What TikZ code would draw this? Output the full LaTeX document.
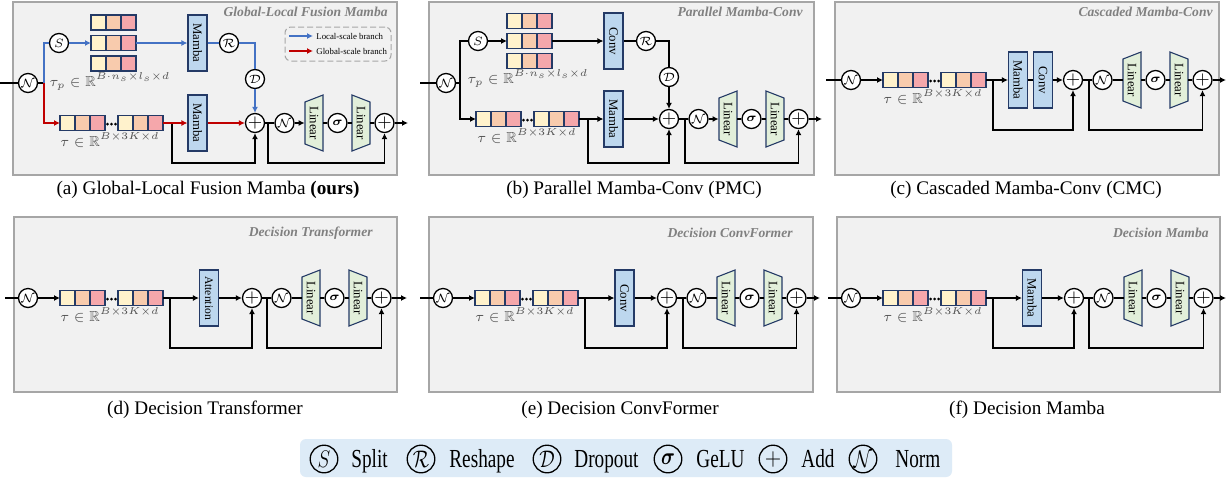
\documentclass[tikz,border=0pt]{standalone}
\usepackage{fontspec}
\setmainfont{Liberation Serif}
\usepackage{amsmath,amssymb}
\usepackage{graphicx}
\usetikzlibrary{arrows.meta}

\definecolor{panelbg}{HTML}{F1F1F1}
\definecolor{panelborder}{HTML}{A6A6A6}
\definecolor{navy}{HTML}{243A66}
\definecolor{blkblue}{HTML}{BDD7EE}
\definecolor{lingreen}{HTML}{E2EFDA}
\definecolor{tokA}{HTML}{FFF2CC}
\definecolor{tokB}{HTML}{F8CBAD}
\definecolor{tokC}{HTML}{F5A7AB}
\definecolor{arrowblue}{HTML}{4472C4}
\definecolor{arrowred}{HTML}{C00000}
\definecolor{titlegray}{HTML}{808080}
\definecolor{labgray}{HTML}{505050}
\definecolor{keybg}{HTML}{DDEBF7}
\definecolor{dashgray}{HTML}{A6A6A6}

\tikzset{
  wire/.style={draw=black, line width=0.65pt},
  bluew/.style={draw=arrowblue, line width=0.75pt},
  redw/.style={draw=arrowred, line width=0.75pt},
  op/.style={circle, draw=black, fill=white, line width=0.65pt, minimum size=9.5pt,
    inner sep=0pt, font=\fontsize{6.5}{7}\selectfont},
  addop/.style={op, font=\fontsize{8.8}{9}\selectfont},
  blk/.style={rectangle, draw=navy, fill=blkblue, line width=0.55pt, minimum width=9.5pt,
    minimum height=28pt, inner sep=0pt, font=\fontsize{6.4}{7}\selectfont},
  linframe/.style={rectangle, minimum width=9pt, minimum height=28pt, inner sep=0pt,
    font=\fontsize{6.4}{7}\selectfont},
  linshape/.style={draw=navy, fill=lingreen, line width=0.55pt, line join=miter},
  tokcell/.style={draw=navy, line width=0.55pt},
  tokspan/.style={rectangle, minimum width=22.5pt, minimum height=7.5pt, inner sep=0pt, outer sep=0pt},
  panel/.style={draw=panelborder, fill=panelbg, line width=0.8pt},
  ptitle/.style={anchor=east, text=titlegray, inner sep=0pt,
    font=\fontsize{6.8}{8}\selectfont\bfseries\itshape},
  caption/.style={anchor=base, inner sep=0pt, font=\fontsize{9.6}{11}\selectfont},
  dimlab/.style={anchor=base, text=labgray, inner sep=0pt, font=\fontsize{7.3}{8}\selectfont},
  keydash/.style={rectangle, draw=dashgray, line width=0.5pt, dash pattern=on 3pt off 1.5pt,
    rounded corners=3pt, minimum width=53pt, minimum height=17pt, inner sep=0pt},
  keytext/.style={anchor=west, inner sep=0pt, font=\fontsize{4.4}{5}\selectfont},
  keybox/.style={rectangle, fill=keybg, rounded corners=3pt, minimum width=326pt,
    minimum height=19pt, inner sep=0pt},
  keyop/.style={circle, draw=black, line width=0.65pt, minimum size=13.8pt, inner sep=0pt,
    font=\fontsize{12}{13}\selectfont},
  keylab/.style={anchor=base west, inner sep=0pt, font=\fontsize{13}{14}\selectfont},
}

% a row of three token cells with a named span node over it
\newcommand\tokgroup[3]{%
  \foreach \tk [count=\ti from 0] in {tokA,tokB,tokC}
    \filldraw[tokcell, fill=\tk] ({#2+15*\ti},{#3-7.5}) rectangle ++(15,15);
  \node[tokspan] (#1) at ({#2+22.5},{#3}) {};
}
% ellipsis between two token groups
\newcommand\tokdots[2]{%
  \foreach \k in {0,1,2}
    \fill ({#1+2.5+4*\k},{#2+1}) circle[radius=0.75pt];
}
% trapezoid linear layer: name, x, y, left inset, right inset
\newcommand\linblk[5]{%
  \filldraw[linshape] ({#2-9},{#3-28+#4}) -- ({#2+9},{#3-28+#5})
    -- ({#2+9},{#3+28-#5}) -- ({#2-9},{#3+28-#4}) -- cycle;
  \node[linframe] (#1) at ({#2},{#3}) {\rotatebox{-90}{Linear}};
}
% add, norm, MLP and add with the two residual paths
% #1 prefix, #2 x of first add, #3 y, #4 skip depth, #5 output x, #6 tip into MLP, #7 skip offset
\newcommand\addtail[7]{%
  \node[addop] (#1-p1) at ({#2},{#3}) {$+$};
  \node[op] (#1-n2) at ({#2+29.5},{#3}) {$\mathcal{N}$};
  \linblk{#1-l1}{#2+59}{#3}{7}{0}
  \node[op] (#1-sg) at ({#2+82.5},{#3}) {$\boldsymbol{\sigma}$};
  \linblk{#1-l2}{#2+106}{#3}{0}{7}
  \node[addop] (#1-p2) at ({#2+129.5},{#3}) {$+$};
  \coordinate (#1-sk2) at ({#2+#7},{#3});
  \coordinate (#1-out) at ({#5},{#3});
  \draw[wire] (#1-p1) -- (#1-n2);
  \draw[wire,#6] (#1-n2) -- (#1-l1);
  \draw[wire] (#1-l1) -- (#1-sg);
  \draw[wire] (#1-sg) -- (#1-l2);
  \draw[wire] (#1-l2) -- (#1-p2);
  \draw[wire,->] (#1-p2) -- (#1-out);
  \draw[wire,->] (#1-sk2) -- ++(0,#4) -| (#1-p2);
}
% norm and token sequence feeding a single-path block
% #1 prefix, #2 x of norm, #3 y, #4 x of incoming end, #5 skip depth
\newcommand\mkfront[5]{%
  \coordinate (#1-in) at ({#4},{#3});
  \node[op] (#1-n1) at ({#2},{#3}) {$\mathcal{N}$};
  \tokgroup{#1-t1}{#2+32}{#3}
  \tokdots{#2+77}{#3}
  \tokgroup{#1-t2}{#2+90}{#3}
  \coordinate (#1-sk) at ({#2+142},{#3});
  \node[dimlab] (#1-lab) at ({#2+82},{#3+23}) {$\tau\in\mathbb{R}^{B\times 3K\times d}$};
  \draw[wire] (#1-in) -- (#1-n1);
  \draw[wire,->] (#1-n1) -- (#1-t1);
  \draw[wire,->] (#1-sk) -- ++(0,#5) -| (#1-p1);
}

\begin{document}
\begin{tikzpicture}[x=0.5pt,y=-0.5pt,>={Latex[length=3pt,width=3pt]}]
\useasboundingbox (0,0) rectangle (1226,478);
\fill[white] (0,0) rectangle (1226,478);

% ---------- panel frames ----------
\draw[panel] (13,2) rectangle (397,175);
\draw[panel] (429,2) rectangle (814,175);
\draw[panel] (835,2) rectangle (1219,175);
\draw[panel] (14,217) rectangle (397,392);
\draw[panel] (429,217) rectangle (813,392);
\draw[panel] (837,217) rectangle (1220,392);

\node[ptitle] (a-title) at (388,12) {Global-Local Fusion Mamba};
\node[ptitle] (b-title) at (803,12) {Parallel Mamba-Conv};
\node[ptitle] (c-title) at (1213,12) {Cascaded Mamba-Conv};
\node[ptitle] (d-title) at (373,233) {Decision Transformer};
\node[ptitle] (e-title) at (793,233) {Decision ConvFormer};
\node[ptitle] (f-title) at (1209,233) {Decision Mamba};

% ---------- (a) Global-Local Fusion Mamba ----------
\addtail{a}{255}{123}{40}{408}{->}{13}
\coordinate (a-in) at (0,83);
\node[op] (a-n1) at (28,83) {$\mathcal{N}$};
\coordinate (a-br) at (44,83);
\node[op] (a-s) at (59,43) {$S$};
\tokgroup{a-u1}{91}{22.5}
\tokgroup{a-u2}{91}{43}
\tokgroup{a-u3}{91}{63.5}
\node[blk] (a-m1) at (197.5,43) {\rotatebox{-90}{Mamba}};
\node[op] (a-r) at (229,43) {$\mathcal{R}$};
\node[op] (a-d) at (255,79) {$\mathcal{D}$};
\tokgroup{a-t1}{60}{123}
\tokdots{105}{123}
\tokgroup{a-t2}{118}{123}
\node[blk] (a-m2) at (197.5,123) {\rotatebox{-90}{Mamba}};
\coordinate (a-sk) at (172,123);
\node[dimlab] (a-labp) at (110,86) {$\tau_p\in\mathbb{R}^{B\cdot n_s\times l_s\times d}$};
\node[dimlab] (a-lab) at (110,146) {$\tau\in\mathbb{R}^{B\times 3K\times d}$};
\draw[wire] (a-in) -- (a-n1);
\draw[wire] (a-n1) -- (a-br);
\draw[wire,->] (a-sk) -- ++(0,40) -| (a-p1);
\draw[bluew] (a-br) |- (a-s);
\draw[bluew,->] (a-s) -- (a-u2);
\draw[bluew,->] (a-u2) -- (a-m1);
\draw[bluew] (a-m1) -- (a-r);
\draw[bluew] (a-r) -| (a-d);
\draw[bluew,->] (a-d) -- (a-p1);
\draw[redw,->] (a-br) |- (a-t1);
\draw[redw,->] (a-t2) -- (a-m2);
\draw[redw,->] (a-m2) -- (a-p1);
% branch key
\node[keydash] (a-key) at (338,44) {};
\coordinate (a-k1a) at (289,36);
\coordinate (a-k1b) at (313,36);
\coordinate (a-k2a) at (289,51);
\coordinate (a-k2b) at (313,51);
\draw[bluew,->] (a-k1a) -- (a-k1b);
\draw[redw,->] (a-k2a) -- (a-k2b);
\node[keytext] (a-k1t) at (316,36) {Local-scale branch};
\node[keytext] (a-k2t) at (316,51) {Global-scale branch};

% ---------- (b) Parallel Mamba-Conv ----------
\addtail{b}{669}{119}{44}{822}{->}{16}
\coordinate (b-in) at (420,83);
\node[op] (b-n1) at (446,83) {$\mathcal{N}$};
\coordinate (b-br) at (460,83);
\node[op] (b-s) at (478,41) {$S$};
\tokgroup{b-u1}{507}{21}
\tokgroup{b-u2}{507}{41}
\tokgroup{b-u3}{507}{61}
\node[blk] (b-cv) at (613.5,41) {\rotatebox{-90}{Conv}};
\node[op] (b-r) at (646,41) {$\mathcal{R}$};
\node[op] (b-d) at (669,77) {$\mathcal{D}$};
\tokgroup{b-t1}{476}{119}
\tokdots{521}{119}
\tokgroup{b-t2}{534}{119}
\node[blk] (b-mb) at (613.5,119) {\rotatebox{-90}{Mamba}};
\coordinate (b-sk) at (588,119);
\node[dimlab] (b-labp) at (528,83) {$\tau_p\in\mathbb{R}^{B\cdot n_s\times l_s\times d}$};
\node[dimlab] (b-lab) at (527,142) {$\tau\in\mathbb{R}^{B\times 3K\times d}$};
\draw[wire] (b-in) -- (b-n1);
\draw[wire] (b-n1) -- (b-br);
\draw[wire] (b-br) |- (b-s);
\draw[wire,->] (b-s) -- (b-u2);
\draw[wire,->] (b-u2) -- (b-cv);
\draw[wire] (b-cv) -- (b-r);
\draw[wire] (b-r) -| (b-d);
\draw[wire,->] (b-d) -- (b-p1);
\draw[wire,->] (b-br) |- (b-t1);
\draw[wire,->] (b-t2) -- (b-mb);
\draw[wire,->] (b-mb) -- (b-p1);
\draw[wire,->] (b-sk) -- ++(0,44) -| (b-p1);

% ---------- (c) Cascaded Mamba-Conv ----------
\addtail{c}{1073}{80}{50}{1226}{-}{16}
\mkfront{c}{851}{80}{826}{50}
\node[blk] (c-mb) at (1018,80) {\rotatebox{-90}{Mamba}};
\node[blk] (c-cv) at (1043,80) {\rotatebox{-90}{Conv}};
\draw[wire,->] (c-t2) -- (c-mb);
\draw[wire] (c-mb) -- (c-cv);
\draw[wire,->] (c-cv) -- (c-p1);

% ---------- (d) Decision Transformer ----------
\addtail{d}{252}{298}{50}{407}{-}{15}
\mkfront{d}{28}{298}{5}{50}
\node[blk, font=\fontsize{5.8}{6}\selectfont] (d-at) at (209,298) {\rotatebox{-90}{Attention}};
\draw[wire,->] (d-t2) -- (d-at);
\draw[wire,->] (d-at) -- (d-p1);

% ---------- (e) Decision ConvFormer ----------
\addtail{e}{667}{298}{50}{820}{-}{16}
\mkfront{e}{443}{298}{420}{50}
\node[blk] (e-cv) at (624.5,298) {\rotatebox{-90}{Conv}};
\draw[wire,->] (e-t2) -- (e-cv);
\draw[wire,->] (e-cv) -- (e-p1);

% ---------- (f) Decision Mamba ----------
\addtail{f}{1074}{298}{50}{1226}{-}{15}
\mkfront{f}{851}{298}{828}{50}
\node[blk] (f-mb) at (1032,298) {\rotatebox{-90}{Mamba}};
\draw[wire,->] (f-t2) -- (f-mb);
\draw[wire,->] (f-mb) -- (f-p1);

% ---------- captions ----------
\node[caption] (a-cap) at (208,194) {(a) Global-Local Fusion Mamba \textbf{(ours)}};
\node[caption] (b-cap) at (634,194) {(b) Parallel Mamba-Conv (PMC)};
\node[caption] (c-cap) at (1026,194) {(c) Cascaded Mamba-Conv (CMC)};
\node[caption] (d-cap) at (205,414) {(d) Decision Transformer};
\node[caption] (e-cap) at (620,414) {(e) Decision ConvFormer};
\node[caption] (f-cap) at (1027,414) {(f) Decision Mamba};

% ---------- symbol legend ----------
\node[keybox] (key) at (626,458) {};
\node[keyop] (k-s) at (324,459) {\scalebox{0.8}[1]{$S$}};
\node[keylab] (k-st) at (351,467) {\scalebox{0.74}[1]{Split}};
\node[keyop] (k-r) at (421,459) {\scalebox{0.8}[1]{$\mathcal{R}$}};
\node[keylab] (k-rt) at (449,467) {\scalebox{0.74}[1]{Reshape}};
\node[keyop] (k-d) at (547,459) {\scalebox{0.8}[1]{$\mathcal{D}$}};
\node[keylab] (k-dt) at (574,467) {\scalebox{0.74}[1]{Dropout}};
\node[keyop] (k-g) at (668,459) {\scalebox{0.8}[1]{$\boldsymbol{\sigma}$}};
\node[keylab] (k-gt) at (696,467) {\scalebox{0.74}[1]{GeLU}};
\node[keyop] (k-a) at (773,459) {\scalebox{0.9}[1]{$+$}};
\node[keylab] (k-at) at (801,467) {\scalebox{0.74}[1]{Add}};
\node[keyop] (k-n) at (863,459) {\scalebox{0.8}[1]{$\mathcal{N}$}};
\node[keylab] (k-nt) at (895,467) {\scalebox{0.74}[1]{Norm}};
\end{tikzpicture}
\end{document}
